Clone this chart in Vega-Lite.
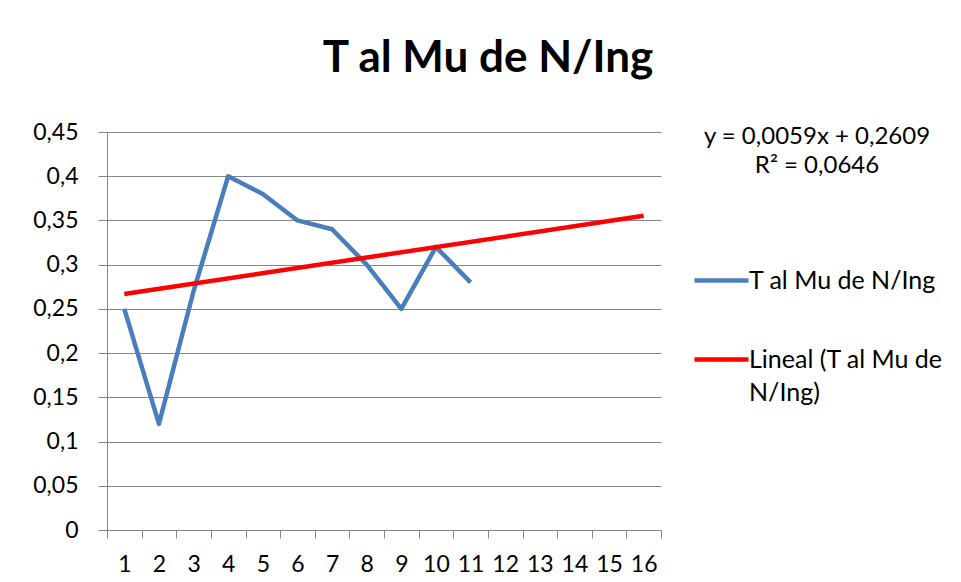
{
  "$schema": "https://vega.github.io/schema/vega-lite/v6.json",
  "width": 554,
  "height": 398,
  "autosize": "none",
  "padding": {"left": 107, "top": 132, "right": 300, "bottom": 52},
  "background": "white",
  "title": {
    "text": "T al Mu de N/Ing",
    "font": "Lato",
    "fontSize": 44,
    "fontWeight": "bold",
    "color": "#000000",
    "anchor": "middle",
    "dx": 104,
    "offset": 40
  },
  "data": {
    "values": [
      {"x": 1, "y": 0.25, "series": "T al Mu de N/Ing"},
      {"x": 2, "y": 0.12, "series": "T al Mu de N/Ing"},
      {"x": 3, "y": 0.27, "series": "T al Mu de N/Ing"},
      {"x": 4, "y": 0.40, "series": "T al Mu de N/Ing"},
      {"x": 5, "y": 0.38, "series": "T al Mu de N/Ing"},
      {"x": 6, "y": 0.35, "series": "T al Mu de N/Ing"},
      {"x": 7, "y": 0.34, "series": "T al Mu de N/Ing"},
      {"x": 8, "y": 0.30, "series": "T al Mu de N/Ing"},
      {"x": 9, "y": 0.25, "series": "T al Mu de N/Ing"},
      {"x": 10, "y": 0.32, "series": "T al Mu de N/Ing"},
      {"x": 11, "y": 0.28, "series": "T al Mu de N/Ing"},
      {"x": 1, "y": 0.2668, "series": "Lineal (T al Mu de N/Ing)"},
      {"x": 16, "y": 0.3553, "series": "Lineal (T al Mu de N/Ing)"}
    ]
  },
  "mark": {"type": "line", "strokeWidth": 4.5, "strokeJoin": "round", "strokeCap": "butt"},
  "encoding": {
    "x": {
      "field": "x",
      "type": "quantitative",
      "scale": {"domain": [0.5, 16.5], "nice": false, "zero": false},
      "axis": {
        "title": null,
        "grid": false,
        "values": [0.5, 1.5, 2.5, 3.5, 4.5, 5.5, 6.5, 7.5, 8.5, 9.5, 10.5, 11.5, 12.5, 13.5, 14.5, 15.5, 16.5],
        "labelExpr": "datum.value < 16 ? format(datum.value + 0.5, 'd') : ''",
        "labelOffset": 17.3,
        "tickSize": 8,
        "labelPadding": 15,
        "domainColor": "#868686",
        "tickColor": "#868686",
        "labelFont": "Lato",
        "labelFontSize": 23,
        "labelColor": "#000000",
        "labelOverlap": false,
        "labelFlush": false
      }
    },
    "y": {
      "field": "y",
      "type": "quantitative",
      "scale": {"domain": [0, 0.45], "nice": false, "zero": true},
      "axis": {
        "title": null,
        "values": [0, 0.05, 0.1, 0.15, 0.2, 0.25, 0.3, 0.35, 0.4, 0.45],
        "labelExpr": "replace(format(datum.value, '.2~f'), '.', ',')",
        "tickSize": 9,
        "labelPadding": 20,
        "domainColor": "#868686",
        "tickColor": "#868686",
        "gridColor": "#868686",
        "gridWidth": 1,
        "labelFont": "Lato",
        "labelFontSize": 23,
        "labelColor": "#000000",
        "labelOverlap": false,
        "labelFlush": false
      }
    },
    "color": {
      "field": "series",
      "type": "nominal",
      "sort": ["T al Mu de N/Ing", "Lineal (T al Mu de N/Ing)"],
      "scale": {
        "domain": ["T al Mu de N/Ing", "Lineal (T al Mu de N/Ing)"],
        "range": ["#4a7ebb", "#ff0000"]
      },
      "legend": {
        "orient": "none",
        "legendX": 585,
        "legendY": -7,
        "title": ["y = 0,0059x + 0,2609", "R² = 0,0646"],
        "titleFont": "Lato",
        "titleFontSize": 24,
        "titleFontWeight": "normal",
        "titleColor": "#000000",
        "titleAnchor": "middle",
        "titleAlign": "center",
        "titleLineHeight": 29,
        "titleLimit": 400,
        "titlePadding": 73,
        "symbolType": "stroke",
        "symbolSize": 2916,
        "symbolStrokeWidth": 4.5,
        "labelFont": "Lato",
        "labelFontSize": 25,
        "labelColor": "#000000",
        "labelLimit": 300,
        "labelOffset": -2,
        "rowPadding": 36,
        "labelExpr": "datum.label == 'Lineal (T al Mu de N/Ing)' ? ['Lineal (T al Mu de', 'N/Ing)'] : datum.label",
        "encode": {"labels": {"update": {"lineHeight": {"value": 33}}}}
      }
    },
    "order": {"field": "x"}
  },
  "config": {
    "view": {"stroke": null}
  }
}
